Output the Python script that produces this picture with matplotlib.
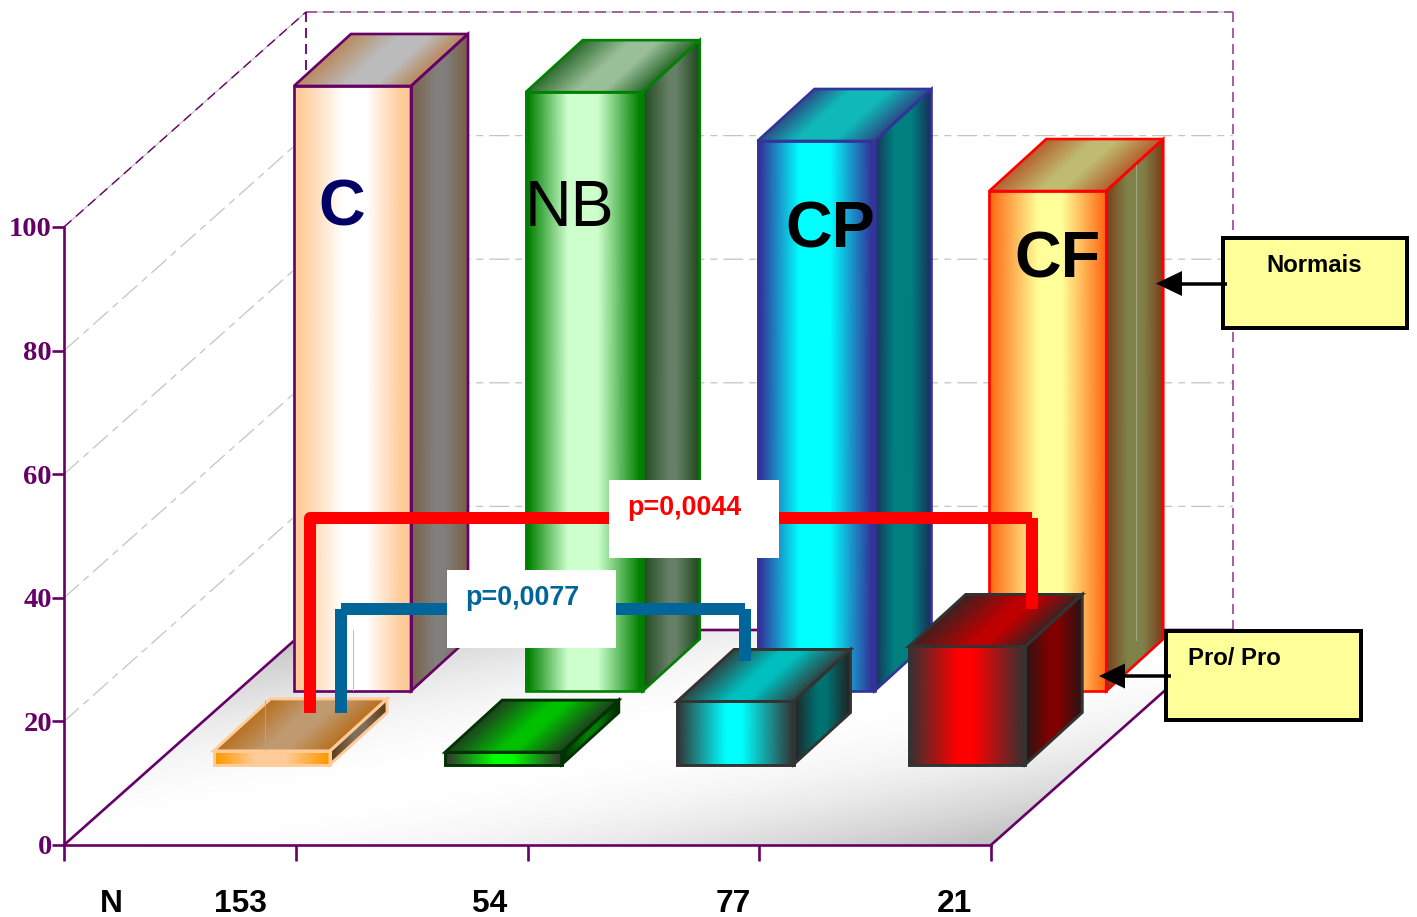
import matplotlib
matplotlib.use("Agg")
import matplotlib.pyplot as plt
import numpy as np
from matplotlib.colors import LinearSegmentedColormap
from matplotlib.patches import Polygon, Rectangle
from matplotlib.transforms import Affine2D

# --- values -------------------------------------------------------------
groups = ["C", "NB", "CP", "CF"]
normais = [97.9, 96.9, 89.0, 80.9]
pro_pro = [2.2, 2.0, 10.2, 19.1]
n_labels = ["153", "54", "77", "21"]
value_ticks = [0, 20, 40, 60, 80, 100]
p_red = "p=0,0044"
p_blue = "p=0,0077"

# --- pixel geometry of the pseudo-3D chart ------------------------------
W, H = 1417, 917
X0, Y0 = 64, 845
PX_CAT, PX_VAL = 231.75, 6.18
PURPLE = "#660066"
BLUE = "#006699"

plt.rcParams["lines.scale_dashes"] = False
fig = plt.figure(figsize=(W / 100, H / 100), dpi=100)
ax = fig.add_axes([0, 0, 1, 1])
ax.set_xlim(-X0 / PX_CAT, (W - X0) / PX_CAT)
ax.set_ylim((Y0 - H) / PX_VAL, Y0 / PX_VAL)
ax.patch.set_alpha(0)
pix = Affine2D().scale(1, -1).translate(0, H)

SERIF = "Liberation Serif"
SANS = "Liberation Sans"
P = 0.72  # points per pixel

# axes built from real spines and ticks
for s in ("top", "right"):
    ax.spines[s].set_visible(False)
ax.spines["left"].set_position(("data", 0))
ax.spines["left"].set_bounds(0, 100)
ax.spines["bottom"].set_position(("data", 0))
ax.spines["bottom"].set_bounds(0, 4)
for s in ("left", "bottom"):
    ax.spines[s].set_color(PURPLE)
    ax.spines[s].set_linewidth(1.9)
ax.set_yticks(value_ticks)
ax.set_yticklabels([str(v) for v in value_ticks], family=SERIF, weight="bold",
                   fontsize=20.5, color=PURPLE)
ax.set_xticks(range(5))
ax.set_xticklabels([])
ax.tick_params(axis="y", length=12 * P, width=1.9, color=PURPLE, pad=0)
ax.tick_params(axis="x", length=16 * P, width=1.9, color=PURPLE)


def gradient_quad(p00, p10, p11, p01, stops, z):
    """Fill a parallelogram with a gradient running from p00 to p10."""
    u = np.linspace(0, 1, 80)
    v = np.array([0.0, 1.0])
    uu, vv = np.meshgrid(u, v)
    a, b, c, d = map(np.array, (p00, p10, p11, p01))
    xx = (1 - uu) * (1 - vv) * a[0] + uu * (1 - vv) * b[0] + uu * vv * c[0] + (1 - uu) * vv * d[0]
    yy = (1 - uu) * (1 - vv) * a[1] + uu * (1 - vv) * b[1] + uu * vv * c[1] + (1 - uu) * vv * d[1]
    cmap = LinearSegmentedColormap.from_list("face", stops, N=512)
    ax.pcolormesh(xx, yy, uu, shading="gouraud", cmap=cmap, vmin=0, vmax=1, zorder=z)


def profile(edge, mid, a=0.08, b=0.4, c=0.6, d=0.92):
    return [(0, edge), (a, edge), (b, mid), (c, mid), (d, edge), (1, edge)]


def bar3d(left, base, value, faces, edge, z, lw, width_px):
    """Front, top and side faces of one block, in category/value units."""
    w, dx, dy = width_px / PX_CAT, 57 / PX_CAT, 52 / PX_VAL
    top = base + value
    gradient_quad((left, base), (left + w, base), (left + w, top), (left, top), faces[0], z)
    gradient_quad((left, top), (left + w, top), (left + w + dx, top + dy), (left + dx, top + dy), faces[1], z)
    gradient_quad((left + w, base), (left + w + dx, base + dy), (left + w + dx, top + dy), (left + w, top), faces[2], z)
    for pts in (
        [(left, base), (left + w, base), (left + w, top), (left, top)],
        [(left, top), (left + w, top), (left + w + dx, top + dy), (left + dx, top + dy)],
        [(left + w, base), (left + w + dx, base + dy), (left + w + dx, top + dy), (left + w, top)],
    ):
        ax.add_patch(Polygon(pts, closed=True, fill=False, edgecolor=edge, linewidth=lw,
                             joinstyle="miter", zorder=z + 0.1))


# --- walls and floor ----------------------------------------------------
wall_dx, wall_dy = 242 / PX_CAT, 215 / PX_VAL
grid_dash = (0, (20 * P, 6 * P, 7 * P, 6 * P))
for v in value_ticks[1:-1]:
    ax.plot([0, wall_dx, 4 + wall_dx], [v, v + wall_dy, v + wall_dy], color="#C4C4C4",
            lw=0.9, ls=grid_dash, zorder=0.5)
ax.plot([0, wall_dx, 4 + wall_dx], [100, 100 + wall_dy, 100 + wall_dy], color="#C4C4C4",
        lw=0.9, zorder=0.5)
ax.plot([0, wall_dx], [100, 100 + wall_dy], color=PURPLE, lw=1.0, ls=(0, (10 * P, 6 * P)), zorder=0.6)
ax.plot([wall_dx, 4 + wall_dx], [100 + wall_dy] * 2, color="#A060A0", lw=1.4, ls=(0, (11 * P, 6 * P)), zorder=0.6)
ax.plot([wall_dx, wall_dx], [wall_dy, 100 + wall_dy], color=PURPLE, lw=1.3, ls=(0, (10 * P, 6 * P)), zorder=0.6)
ax.plot([4 + wall_dx] * 2, [wall_dy, 100 + wall_dy], color="#A050A0", lw=1.3, ls=(0, (10 * P, 6 * P)), zorder=0.6)

# floor shading: grey towards two opposite corners, white along the other diagonal
u = np.linspace(0, 1, 90)
uu, vv = np.meshgrid(u, u)
shade = np.abs(uu - vv) ** 2
floor_cmap = LinearSegmentedColormap.from_list("floor", ["#FFFFFF", "#BEBEBE"], N=256)
ax.pcolormesh(uu * 4 + vv * wall_dx, vv * wall_dy, shade, shading="gouraud", cmap=floor_cmap,
              vmin=0, vmax=1, zorder=1)
ax.plot([0, wall_dx, 4 + wall_dx, 4], [0, wall_dy, wall_dy, 0], color=PURPLE, lw=1.9, zorder=1.2)

# --- blocks -------------------------------------------------------------
back_faces = [
    [profile("#FFCC99", "#FFFFFF", 0.06, 0.42, 0.62, 0.92),
     profile("#B88F68", "#BBBBBB", 0.05, 0.42, 0.7, 0.96),
     profile("#7A624C", "#807F7C", 0.02, 0.42, 0.6, 0.98)],
    [profile("#008000", "#CCFFCC", 0.02, 0.36, 0.62, 0.98),
     profile("#2F6B2F", "#99BF99", 0.0, 0.42, 0.66, 1.0),
     profile("#1F4A1F", "#667F66", 0.0, 0.46, 0.6, 1.0)],
    [profile("#333399", "#00FFFF", 0.02, 0.36, 0.62, 0.98),
     profile("#2A4F88", "#10B8B8", 0.0, 0.32, 0.66, 1.0),
     profile("#1A2F58", "#007F7F", 0.0, 0.34, 0.66, 1.0)],
    [profile("#FF6611", "#FFFF99", 0.0, 0.42, 0.62, 1.0),
     profile("#B5602F", "#BFBB70", 0.0, 0.42, 0.62, 1.0),
     profile("#7A3F1A", "#808049", 0.0, 0.36, 0.66, 1.0)],
]
front_faces = [
    [profile("#FF9900", "#FFCC99", 0.02, 0.36, 0.62, 0.98),
     profile("#B87020", "#BF9A70", 0.0, 0.42, 0.62, 1.0),
     profile("#5A3A18", "#806E58", 0.0, 0.42, 0.62, 1.0)],
    [profile("#333333", "#00FF00", 0.0, 0.42, 0.58, 1.0),
     profile("#1F401F", "#00C000", 0.0, 0.45, 0.6, 1.0),
     profile("#002A00", "#007F00", 0.0, 0.42, 0.62, 1.0)],
    [profile("#333333", "#00FFFF", 0.0, 0.42, 0.56, 1.0),
     profile("#2F4444", "#00BFBF", 0.0, 0.42, 0.6, 1.0),
     profile("#222222", "#007070", 0.0, 0.42, 0.6, 1.0)],
    [profile("#333333", "#FF0000", 0.0, 0.42, 0.56, 1.0),
     profile("#402020", "#BF0000", 0.0, 0.5, 0.66, 1.0),
     profile("#2A1515", "#7F0000", 0.0, 0.42, 0.6, 1.0)],
]
back_edges = [PURPLE, "#008000", "#333399", "#FF0000"]
front_edges = ["#FFCC99", "#003300", "#333333", "#333333"]
back_left, back_base = (294 - X0) / PX_CAT, (Y0 - 691) / PX_VAL
front_left, front_base = (213.5 - X0) / PX_CAT, (Y0 - 764.5) / PX_VAL

for i, v in enumerate(normais):
    bar3d(i + back_left, back_base, v, back_faces[i], back_edges[i], 3 + i * 0.2, 1.9, 117)
for i, v in enumerate(pro_pro):
    bar3d(i + front_left, front_base, v, front_faces[i], front_edges[i], 5 + i * 0.2, 2.1, 116.5)

# hidden-edge hairlines that show through the blocks
ax.plot([353, 353], [630, 690], color="#BBBBBB", lw=0.7, transform=pix, zorder=3.9)
ax.plot([1135.5, 1135.5], [165, 640], color="#A8A890", lw=0.7, transform=pix, zorder=3.9)
ax.plot([265, 265], [700, 750], color="#D0A070", lw=0.6, transform=pix, zorder=5.9)

# --- group names on the tall blocks -------------------------------------
name_style = [("#000066", "bold"), ("black", "normal"), ("black", "bold"), ("black", "bold")]
name_pos = [(318, 226), (525, 226), (785, 247), (1014, 277)]
for name, (col, wt), (x, y) in zip(groups, name_style, name_pos):
    ax.text(x, y, name, transform=pix, family=SANS, weight=wt, fontsize=46.5, color=col,
            ha="left", va="baseline", zorder=7)

# --- significance brackets ----------------------------------------------
BAR_LW = 12 * P
ax.plot([309.5, 309.5, 1032], [713, 518, 518], color="#FF0000", lw=BAR_LW, transform=pix,
        solid_joinstyle="round", solid_capstyle="butt", zorder=8)
ax.plot([1032, 1032], [518, 609], color="#FF0000", lw=BAR_LW, transform=pix,
        solid_capstyle="butt", zorder=8)
for xs, ys in (([341, 341], [609, 713]), ([341, 745], [609, 609]), ([745, 745], [609, 661])):
    ax.plot(xs, ys, color=BLUE, lw=BAR_LW, transform=pix, solid_capstyle="butt", zorder=8.1)
ax.add_patch(Rectangle((609, 480), 170, 78, transform=pix, fc="white", ec="none", zorder=9))
ax.add_patch(Rectangle((447, 570), 169, 78, transform=pix, fc="white", ec="none", zorder=9))
ax.text(627.5, 515, p_red, transform=pix, family=SANS, weight="bold", fontsize=19.4,
        color="#FF0000", va="baseline", zorder=10)
ax.text(465.5, 605, p_blue, transform=pix, family=SANS, weight="bold", fontsize=19.4,
        color=BLUE, va="baseline", zorder=10)

# --- callouts -----------------------------------------------------------
callouts = [("Normais", (1223, 238, 184, 90), (1266.5, 272), (1227, 1156, 283.5)),
            ("Pro/ Pro", (1166, 631, 195, 89), (1187.5, 665), (1171, 1099, 676))]
for label, (x, y, w, h), (tx, ty), (ax0, ax1, ay) in callouts:
    ax.plot([ax0, ax1 + 24], [ay, ay], color="black", lw=3.5 * P, transform=pix,
            solid_capstyle="butt", zorder=10)
    ax.add_patch(Polygon([(ax1, ay), (ax1 + 26, ay - 12.5), (ax1 + 26, ay + 12.5)], closed=True,
                         transform=pix, fc="black", ec="none", zorder=11))
    ax.add_patch(Rectangle((x, y), w, h, transform=pix, fc="#FFFF99", ec="black",
                           lw=4 * P, zorder=9.5))
    ax.text(tx, ty, label, transform=pix, family=SANS, weight="bold", fontsize=17.2,
            color="black", va="baseline", zorder=11)

# --- sample sizes under the axis ----------------------------------------
ax.text(111, 912, "N", transform=pix, family=SANS, weight="bold", fontsize=22.8,
        ha="center", va="baseline", color="black")
for label, x in zip(n_labels, [240, 490, 733, 955]):
    ax.text(x, 912, label, transform=pix, family=SANS, weight="bold", fontsize=22.8,
            ha="center", va="baseline", color="black")

fig.savefig("out.png", dpi=100, facecolor="white")
